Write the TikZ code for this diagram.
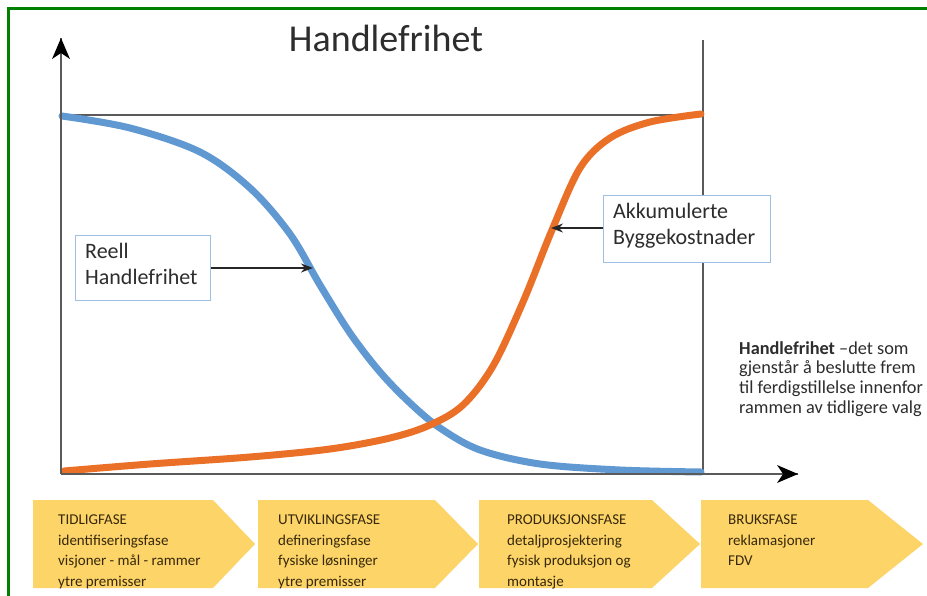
\documentclass[tikz,border=0pt]{standalone}
\usepackage{fontspec}
\setmainfont{Carlito}
\usetikzlibrary{arrows.meta}
\definecolor{cblue}{RGB}{96,152,210}
\definecolor{corange}{RGB}{234,112,40}
\definecolor{cyellow}{RGB}{252,212,104}
\definecolor{cbox}{RGB}{160,190,228}
\definecolor{caxis}{RGB}{90,90,90}
\definecolor{cgreen}{RGB}{0,128,0}
\definecolor{ctext}{RGB}{45,45,45}
\definecolor{cphase}{RGB}{55,40,10}
\tikzset{
  axisline/.style={draw=caxis, line width=1.6pt},
  curve/.style={line width=7pt, line cap=round, line join=round},
  labelbox/.style={draw=cbox, line width=1.4pt, fill=white, inner sep=0pt, anchor=north west},
  labeltext/.style={anchor=north west, inner sep=0pt, align=left, text=ctext, font=\fontsize{22}{26}\selectfont},
  pointer/.style={draw=black!85, line width=1.3pt, -{Stealth[length=12pt,width=9pt]}},
  chevron/.style={fill=cyellow, draw=none},
  phasetext/.style={anchor=north west, inner sep=0pt, align=left, text=cphase, font=\fontsize{15}{20.5}\selectfont},
}
\begin{document}
\begin{tikzpicture}[x=1pt,y=-1pt]
\useasboundingbox (0,0) rectangle (927,595);
\fill[white] (0,0) rectangle (927,595);
% green frame (top and left)
\draw[cgreen, line width=2.4pt] (8.5,600) -- (8.5,8.5) -- (935,8.5);

% named points
\coordinate (O) at (61,474);
\coordinate (ytip) at (61,38);
\coordinate (xtip) at (798,474);
\coordinate (tl) at (61,115);
\coordinate (tr) at (703,115);
\coordinate (rtop) at (703,40);
\coordinate (rbot) at (703,474);

% frame lines
\draw[axisline] (tl) -- (tr);
\draw[axisline] (rtop) -- (rbot);

% curves
\draw[cblue, curve] plot[smooth, tension=0.55] coordinates {(62,116) (130,128) (200,152) (250,188) (290,234) (320,285) (350,333) (380,372) (410,403) (440,428) (480,450) (540,464) (620,470) (701,472)};
\draw[corange, curve] plot[smooth, tension=0.55] coordinates {(64,471) (150,464) (250,457) (330,449) (390,438) (430,425) (463,405) (493,366) (523,302) (552,230) (580,168) (610,138) (650,122) (701,114)};

% axes
\draw[axisline] (O) -- (ytip);
\draw[axisline] (O) -- (xtip);
\fill[black] (ytip) -- ++(-9,21) -- ++(9,-6) -- ++(9,6) -- cycle;
\fill[black] (xtip) -- ++(-21,-9) -- ++(6,9) -- ++(-6,9) -- cycle;

% title
\node[anchor=base, text=ctext, font=\fontsize{38}{42}\selectfont, inner sep=0pt] (title) at (386,51) {Handlefrihet};

% label boxes
\node[labelbox, minimum width=135pt, minimum height=65pt] (reell) at (75,235) {};
\node[labeltext] (reelltext) at (85,243) {Reell\\Handlefrihet};
\coordinate (reelltip) at (313,268);
\draw[pointer] (reell.east |- reelltip) -- (reelltip);

\node[labelbox, minimum width=167pt, minimum height=67pt] (akk) at (603,195) {};
\node[labeltext] (akktext) at (613,203) {Akkumulerte\\Byggekostnader};
\coordinate (akktip) at (551,228);
\draw[pointer] (akk.west |- akktip) -- (akktip);

% side text
\node[anchor=north west, inner sep=0pt, align=left, text=ctext, font=\fontsize{18.3}{19.8}\selectfont] (side) at (739,341) {\textbf{Handlefrihet} –det som\\gjenstår å beslutte frem\\til ferdigstillelse innenfor\\rammen av tidligere valg};

% phase chevrons
\fill[chevron] (33,500) -- (213,500) -- (255,544) -- (213,588) -- (33,588) -- cycle;
\fill[chevron] (258,500) -- (435,500) -- (478,544) -- (435,588) -- (258,588) -- cycle;
\fill[chevron] (479,500) -- (652,500) -- (700,544) -- (652,588) -- (479,588) -- cycle;
\fill[chevron] (701,500) -- (868,500) -- (923,544) -- (868,588) -- (701,588) -- cycle;

\node[phasetext] (p1) at (58,515) {TIDLIGFASE\\identifiseringsfase\\visjoner - mål - rammer\\ytre premisser};
\node[phasetext] (p2) at (278,515) {UTVIKLINGSFASE\\defineringsfase\\fysiske løsninger\\ytre premisser};
\node[phasetext] (p3) at (507,515) {PRODUKSJONSFASE\\detaljprosjektering\\fysisk produksjon og\\montasje};
\node[phasetext] (p4) at (728,515) {BRUKSFASE\\reklamasjoner\\FDV};
\end{tikzpicture}
\end{document}
